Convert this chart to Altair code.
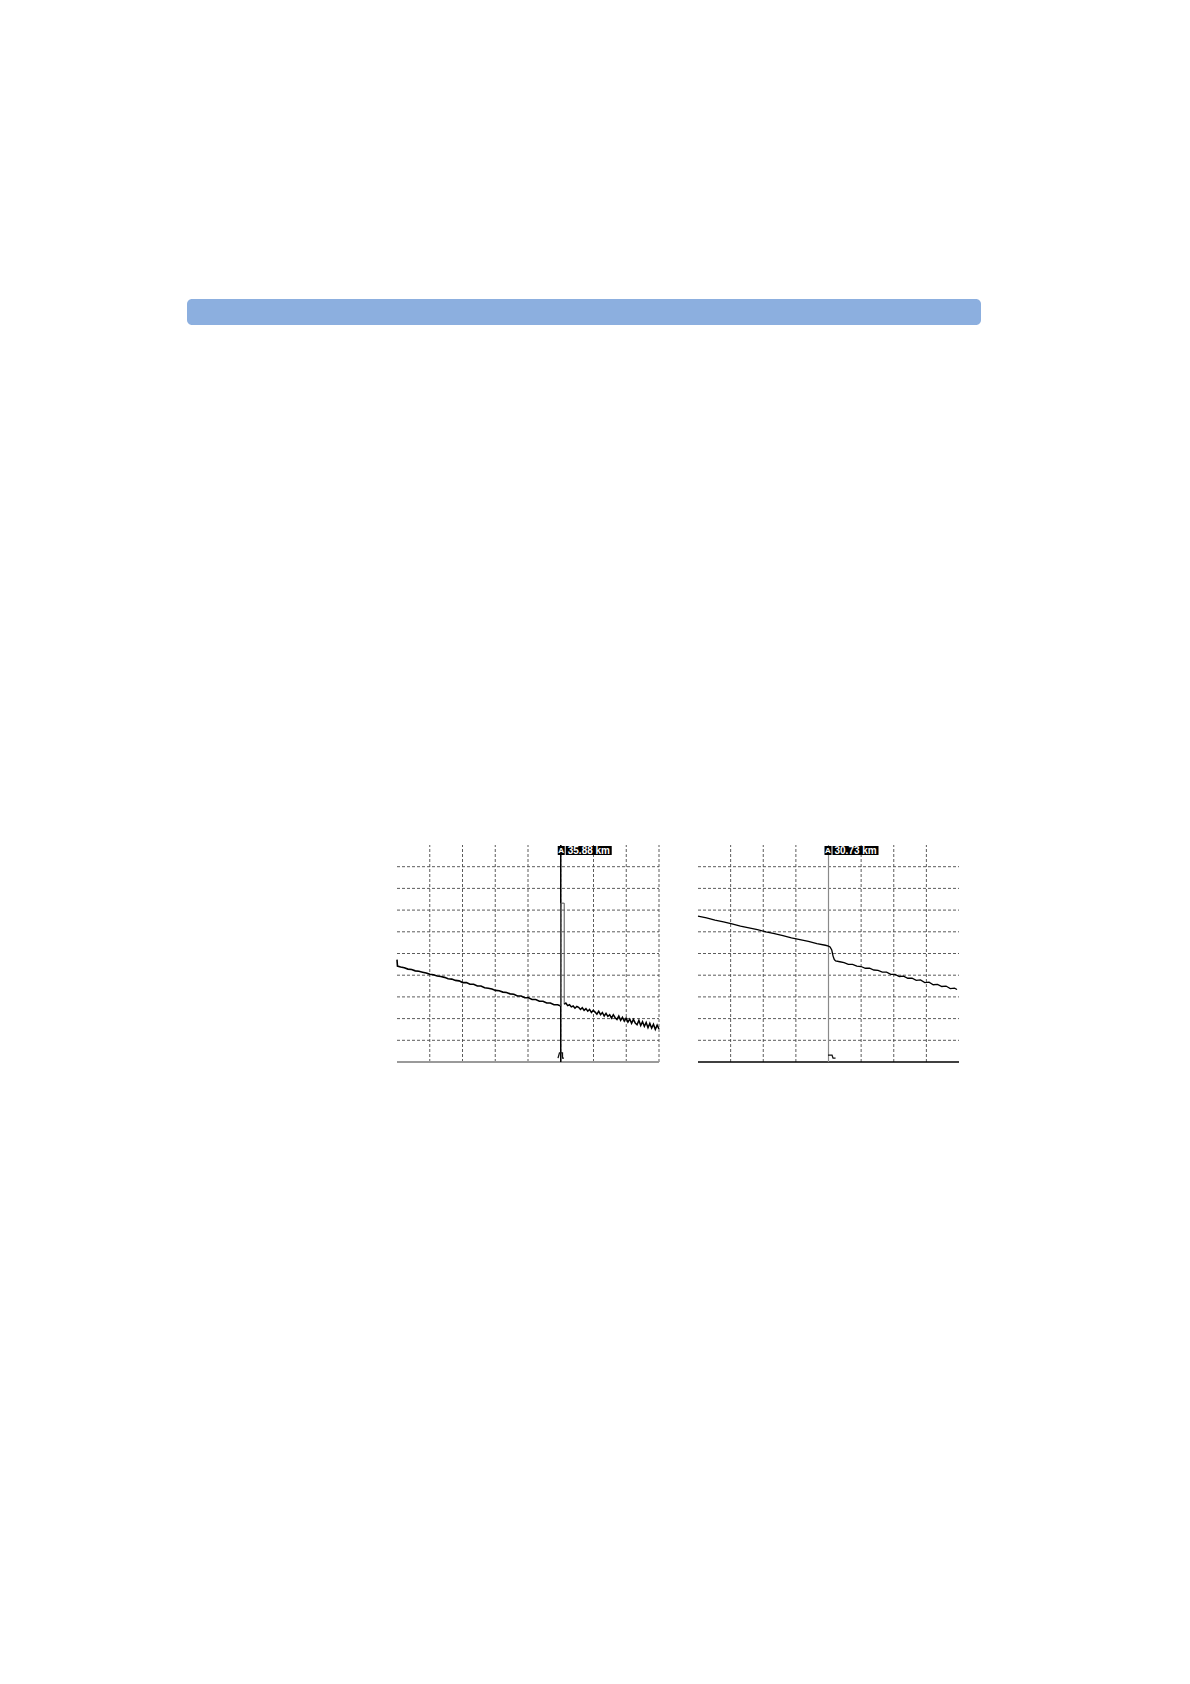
import altair as alt
import pandas as pd

# ---------------- data ----------------
# Left OTDR trace (km, dB) before the reflective event
L1_KM = [0.0, 0.1, 0.8, 1.6, 2.4, 3.2, 4.0, 4.8, 5.6, 6.4, 7.2, 8.0, 8.8, 9.6, 10.4, 11.2,
         12.0, 12.8, 13.6, 14.4, 15.2, 16.0, 16.8, 17.6, 18.4, 19.2, 20.0, 20.8, 21.6, 22.4,
         23.2, 24.0, 24.8, 25.6, 26.4, 27.2, 28.0, 28.8, 29.6, 30.4, 31.2, 32.0, 32.8, 33.6,
         34.4, 35.2, 35.88]
L1_DB = [23.6, 22.1, 21.9, 21.7, 21.4, 21.3, 21.0, 20.9, 20.7, 20.5, 20.2, 20.1, 19.8, 19.7,
         19.5, 19.2, 19.1, 18.8, 18.7, 18.3, 18.3, 17.9, 17.9, 17.5, 17.5, 17.1, 17.0, 16.8,
         16.5, 16.4, 16.1, 16.0, 15.7, 15.6, 15.2, 15.2, 14.8, 14.8, 14.4, 14.4, 14.0, 14.0,
         13.6, 13.6, 13.2, 13.2, 12.9]
# Reflective pulse at the marker
LP_KM = [35.88, 35.88, 36.64, 36.64]
LP_DB = [12.9, 36.6, 36.6, 13.3]
# Left trace after the event (noisier)
L2_KM = [36.64, 37.0, 37.4, 37.8, 38.2, 38.6, 39.0, 39.4, 39.8, 40.2, 40.6, 41.0, 41.4, 41.8,
         42.2, 42.6, 43.0, 43.4, 43.8, 44.2, 44.6, 45.0, 45.4, 45.8, 46.2, 46.6, 47.0, 47.4,
         47.8, 48.2, 48.6, 49.0, 49.4, 49.8, 50.2, 50.6, 51.0, 51.4, 51.8, 52.2, 52.6, 53.0,
         53.4, 53.8, 54.2, 54.6, 55.0, 55.4, 55.8, 56.2, 56.6, 57.0, 57.41]
L2_DB = [13.3, 13.6, 13.0, 13.2, 12.7, 12.9, 12.4, 12.8, 12.6, 12.1, 12.5, 11.9, 12.3, 11.7,
         12.1, 11.4, 11.9, 11.5, 11.0, 11.7, 10.9, 11.4, 10.6, 11.2, 10.5, 10.9, 10.1, 10.9,
         10.2, 9.8, 10.6, 9.6, 10.3, 9.4, 10.1, 9.2, 9.9, 8.9, 9.8, 9.0, 8.6, 9.6,
         8.4, 9.3, 8.2, 9.1, 7.9, 8.9, 7.8, 8.7, 7.5, 8.5, 7.6]
# Small overview glyph at the bottom of the left marker
LG_KM = [35.28, 35.6, 35.6, 36.26, 36.26, 36.59]
LG_DB = [0.9, 2.1, 2.1, 2.1, 0.9, 0.9]

# Right OTDR trace (km, dB) with a non-reflective step
R_KM = [0.0, 2.0, 4.0, 6.0, 8.0, 10.0, 12.0, 14.0, 16.0, 18.0, 20.0, 22.0, 24.0, 26.0, 28.0,
        30.0, 30.73, 31.1, 31.5, 31.8, 32.1, 32.4, 33.4, 34.4, 35.4, 36.4, 37.4, 38.4, 39.4,
        40.4, 41.4, 42.4, 43.4, 44.4, 45.4, 46.4, 47.4, 48.4, 49.4, 50.4, 51.4, 52.4, 53.4,
        54.4, 55.4, 56.4, 57.4, 58.4, 59.4, 60.4, 61.0]
R_DB = [33.6, 33.2, 32.7, 32.3, 31.8, 31.3, 30.9, 30.5, 30.0, 29.6, 29.1, 28.6, 28.2, 27.8,
        27.3, 26.9, 26.7, 26.5, 25.8, 24.4, 23.6, 23.3, 23.1, 22.9, 22.5, 22.5, 22.1, 22.0,
        21.6, 21.6, 21.2, 21.1, 20.7, 20.7, 20.2, 20.2, 19.7, 19.8, 19.3, 19.3, 18.8, 18.9,
        18.3, 18.4, 17.8, 17.9, 17.4, 17.5, 16.9, 17.0, 16.7]
RG_KM = [30.62, 31.56, 31.8, 32.39]
RG_DB = [1.6, 1.6, 0.9, 0.9]

MARKERS = ["35.88 km", "30.73 km"]
MARKER_KM = [35.88, 30.73]
SPANS_KM = [57.41, 61.46]
DB_TOP = 50.0
X_DIV = 8
Y_DIV = 10

# ---------------- scales (pixel ranges inside the 1174-wide view) ----------------
L_X = alt.Scale(domain=[0, SPANS_KM[0]], range=[389, 651], nice=False, zero=False)
R_X = alt.Scale(domain=[0, SPANS_KM[1]], range=[690, 951], nice=False, zero=False)
Y = alt.Scale(domain=[0, DB_TOP], range=[1054, 837], nice=False, zero=False)

GRID_COLOR = "#4a4a4a"


def panel(xsc, span, n_vert, marker_km, marker_text, marker_color, marker_w,
          axis_color, axis_w, traces, glyph, a_off):
    layers = []
    hl = pd.DataFrame({"y": [DB_TOP * i / Y_DIV for i in range(1, Y_DIV)],
                       "x0": 0.0, "x1": span})
    layers.append(alt.Chart(hl).mark_rule(color=GRID_COLOR, strokeDash=[3, 2], strokeWidth=0.9).encode(
        x=alt.X("x0:Q", scale=xsc, axis=None), x2="x1:Q",
        y=alt.Y("y:Q", scale=Y, axis=None)))
    vl = pd.DataFrame({"x": [span * i / X_DIV for i in range(1, n_vert + 1)],
                       "y0": 0.0, "y1": DB_TOP})
    layers.append(alt.Chart(vl).mark_rule(color=GRID_COLOR, strokeDash=[3, 2], strokeWidth=0.9).encode(
        x=alt.X("x:Q", scale=xsc, axis=None),
        y=alt.Y("y0:Q", scale=Y, axis=None), y2="y1:Q"))
    base = pd.DataFrame({"x0": [0.0], "x1": [span], "y": [0.0]})
    layers.append(alt.Chart(base).mark_rule(color=axis_color, strokeWidth=axis_w).encode(
        x=alt.X("x0:Q", scale=xsc, axis=None), x2="x1:Q",
        y=alt.Y("y:Q", scale=Y, axis=None)))
    mk = pd.DataFrame({"km": [marker_km], "y0": [0.0], "top": [DB_TOP], "label": [marker_text], "a": ["A"]})
    layers.append(alt.Chart(mk).mark_rule(color=marker_color, strokeWidth=marker_w).encode(
        x=alt.X("km:Q", scale=xsc, axis=None),
        y=alt.Y("y0:Q", scale=Y, axis=None), y2="top:Q"))
    for df, color, w in traces:
        layers.append(alt.Chart(df).mark_line(color=color, strokeWidth=w, interpolate="linear").encode(
            x=alt.X("km:Q", scale=xsc, axis=None),
            y=alt.Y("db:Q", scale=Y, axis=None),
            order="i:Q"))
    layers.append(alt.Chart(glyph).mark_line(color="#111", strokeWidth=1.3).encode(
        x=alt.X("km:Q", scale=xsc, axis=None),
        y=alt.Y("db:Q", scale=Y, axis=None), order="i:Q"))
    # label boxes
    layers.append(alt.Chart(mk).mark_rect(color="black", xOffset=a_off[0], x2Offset=a_off[1],
                                          yOffset=1, y2Offset=10).encode(
        x=alt.X("km:Q", scale=xsc, axis=None), x2="km:Q",
        y=alt.Y("top:Q", scale=Y, axis=None), y2="top:Q"))
    layers.append(alt.Chart(mk).mark_rect(color="black", xOffset=a_off[1] + 1, x2Offset=a_off[1] + 47,
                                          yOffset=1, y2Offset=10).encode(
        x=alt.X("km:Q", scale=xsc, axis=None), x2="km:Q",
        y=alt.Y("top:Q", scale=Y, axis=None), y2="top:Q"))
    layers.append(alt.Chart(mk).mark_text(color="white", font="Liberation Sans", fontSize=8, fontWeight="bold",
                                          align="center", baseline="middle",
                                          dx=(a_off[0] + a_off[1]) / 2, dy=6).encode(
        x=alt.X("km:Q", scale=xsc, axis=None),
        y=alt.Y("top:Q", scale=Y, axis=None), text="a:N"))
    layers.append(alt.Chart(mk).mark_text(color="white", font="Liberation Sans", fontSize=10,
                                          fontWeight="bold", align="left", baseline="middle",
                                          dx=a_off[1] + 3, dy=6).encode(
        x=alt.X("km:Q", scale=xsc, axis=None),
        y=alt.Y("top:Q", scale=Y, axis=None), text="label:N"))
    return layers


def frame(km, db):
    return pd.DataFrame({"km": km, "db": db, "i": list(range(len(km)))})


left = panel(L_X, SPANS_KM[0], 8, MARKER_KM[0], MARKERS[0], "black", 1.5, "#9a9a9a", 2.2,
             [(frame(L1_KM, L1_DB), "black", 1.6),
              (frame(LP_KM, LP_DB), "#555555", 1.0),
              (frame(L2_KM, L2_DB), "black", 1.5)],
             frame(LG_KM, LG_DB), (-3, 4))
right = panel(R_X, SPANS_KM[1], 7, MARKER_KM[1], MARKERS[1], "#8a8a8a", 1.2, "black", 1.6,
              [(frame(R_KM, R_DB), "black", 1.3)],
              frame(RG_KM, RG_DB), (-4, 3))

header = alt.Chart(pd.DataFrame({"k": [0]})).mark_rect(color="#8cafdf", cornerRadius=5).encode(
    x=alt.value(179), x2=alt.value(973), y=alt.value(291), y2=alt.value(317))

chart = alt.layer(header, *left, *right).resolve_scale(
    x="independent", y="independent"
).properties(
    width=1174, height=1100, autosize="none", padding=0, background="white"
).configure_view(stroke=None)

chart.save("out.html", embed_options={"renderer": "svg", "actions": False})
